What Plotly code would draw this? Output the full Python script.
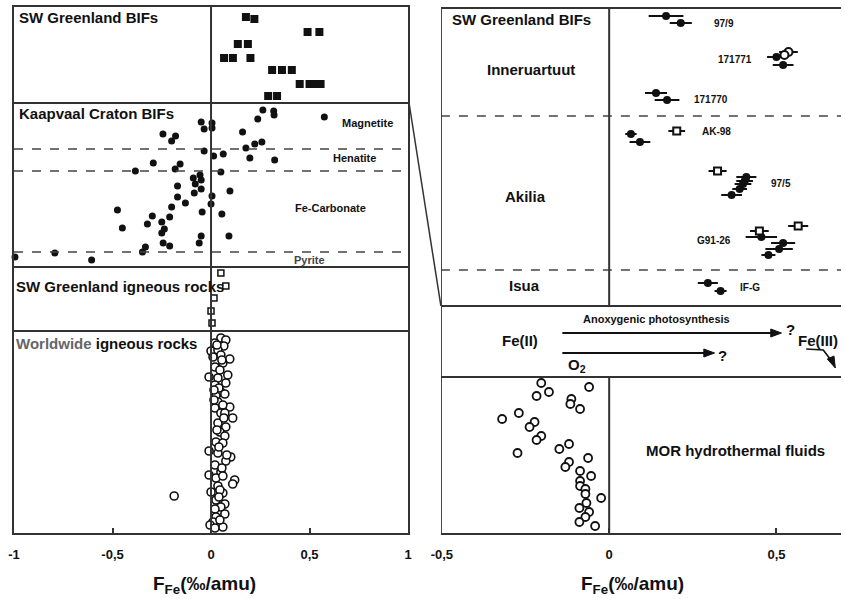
import plotly.graph_objects as go

FONT = "Arial, 'Liberation Sans', sans-serif"
INK = "#111111"
LINE = "#333333"

# ---------------- LEFT COLUMN DATA (x = F_Fe, y = vertical row position) ----------------
swg_bif_x = [0.177, 0.22, 0.49, 0.55, 0.136, 0.187, 0.066, 0.111, 0.20, 0.31, 0.36, 0.41,
             0.45, 0.50, 0.53, 0.556, 0.29, 0.335]
swg_bif_y = [17, 19, 32, 32, 44, 44, 58, 58, 58, 70, 70, 70, 84, 84, 84, 84, 96, 96]

kaap_x = [0.263, 0.318, 0.32, 0.237, 0.575, -0.05, 0.005, -0.035, 0.005, -0.244, -0.18, -0.2,
          0.16, 0.258, 0.222, 0.177, -0.035, 0.013, 0.062, 0.197, 0.323, -0.293, -0.157, -0.182,
          -0.384, 0.05, -0.056, -0.09, -0.05, -0.08, -0.17, -0.05, -0.085, 0.096, -0.17, 0.005,
          -0.13, 0.0, -0.2, -0.475, -0.045, 0.055, -0.298, -0.21, -0.25, -0.323, -0.45, -0.237,
          -0.25, -0.05, 0.091, -0.243, -0.21, -0.333, -0.06, -0.348, -0.793, -0.995, -0.606]
kaap_y = [110, 111, 115, 119, 117, 122, 123, 129, 128, 134, 136, 141,
          132, 142, 144, 148, 151, 156, 154, 158, 160, 163, 164, 169,
          171, 172, 175, 178, 180, 184, 186, 189, 193, 191, 197, 196,
          203, 204, 207, 210, 212, 214, 216, 217, 222, 224, 228, 229,
          233, 236, 236, 243, 246, 247, 243, 252, 253, 257, 260]

swg_ign_x = [0.05, 0.075, 0.015, 0.0, 0.005]
swg_ign_y = [273, 286, 298, 311, 323]

world_x = [0.05, 0.075, 0.02, 0.065, 0.0, 0.035, 0.05, 0.01, 0.095, 0.06, 0.02, 0.045, 0.085,
           -0.01, 0.035, 0.075, 0.02, 0.05, 0.025, 0.07, 0.035, 0.095, 0.06, 0.02, 0.05, 0.11,
           0.07, 0.035, 0.075, 0.045, 0.07, 0.025, 0.06, -0.01, 0.035, 0.1, 0.075, 0.02, 0.05,
           -0.01, 0.025, 0.12, 0.11, 0.035, 0.0, 0.06, -0.187, 0.025, 0.07, 0.05, 0.02, 0.07,
           0.025, 0.01, -0.005, 0.06, 0.02, 0.03, 0.055, 0.04, 0.015, 0.065, 0.04, 0.055, 0.045,
           0.04, 0.045, 0.015, 0.03, 0.08, 0.06]
world_y = [338, 340, 343, 346, 351, 350, 355, 357, 359, 363, 367, 370, 375,
           377, 378, 383, 385, 392, 396, 394, 402, 407, 405, 408, 413, 418,
           413, 423, 427, 432, 436, 442, 443, 451, 453, 457, 461, 465, 472,
           475, 478, 480, 484, 486, 492, 493, 496, 500, 504, 507, 509, 514,
           517, 522, 525, 527, 528, 345, 360, 388, 400, 418, 447, 468, 490,
           497, 520, 390, 430, 455, 476]

# ---------------- RIGHT COLUMN DATA ----------------
bif_fill_x = [0.17, 0.214, 0.50, 0.52, 0.14, 0.173, 0.065, 0.092, 0.41, 0.405, 0.40, 0.39,
              0.366, 0.455, 0.52, 0.508, 0.476, 0.295, 0.333]
bif_fill_y = [16, 23, 57, 65, 93, 100, 134, 142, 177, 181, 184, 189, 195, 237, 243, 249, 255,
              283, 291]
bif_fill_err = [0.052, 0.033, 0.028, 0.031, 0.033, 0.037, 0.017, 0.031, 0.03, 0.025, 0.025,
                0.022, 0.031, 0.047, 0.036, 0.041, 0.021, 0.03, 0.018]

bif_sq_x = [0.202, 0.324, 0.565, 0.449]
bif_sq_y = [131, 171, 226, 231]
bif_sq_err = [0.025, 0.027, 0.03, 0.028]

bif_oc_x = [0.536, 0.524]
bif_oc_y = [52, 55]
bif_oc_err = [0.028, 0.02]

mor_x = [-0.203, -0.06, -0.18, -0.217, -0.113, -0.116, -0.087, -0.27, -0.32, -0.223, -0.238,
         -0.203, -0.217, -0.12, -0.149, -0.274, -0.063, -0.12, -0.131, -0.087, -0.054, -0.087,
         -0.087, -0.071, -0.071, -0.024, -0.068, -0.089, -0.06, -0.071, -0.089, -0.042]
mor_y = [383, 387, 392, 396, 399, 404, 409, 413, 419, 422, 427,
         436, 440, 444, 449, 453, 458, 462, 467, 471, 476, 481,
         486, 489, 494, 498, 503, 508, 512, 517, 522, 526]

left_ticks = [-1, -0.5, 0, 0.5, 1]
left_ticktext = ["-1", "-0,5", "0", "0,5", "1"]
right_ticks = [-0.5, 0, 0.5]
right_ticktext = ["-0,5", "0", "0,5"]

# panel boundaries (rows)
left_solid = [103, 267, 331]
left_dashed = [149, 171, 252]
right_solid = [8, 306, 377]
right_dashed = [116, 270]

fig = go.Figure()

def add(x, y, xa, ya, symbol, size, filled=True, err=None, lw=2):
    m = dict(symbol=symbol, size=size, color=INK if filled else "white",
             line=dict(color=INK, width=lw))
    tr = go.Scatter(x=x, y=y, mode="markers", marker=m, xaxis=xa, yaxis=ya,
                    showlegend=False, hoverinfo="skip", cliponaxis=False)
    if err is not None:
        tr.error_x = dict(type="data", array=err, thickness=2, width=0, color=INK)
    fig.add_trace(tr)

add(swg_bif_x, swg_bif_y, "x", "y", "square", 8, lw=0)
add(kaap_x, kaap_y, "x", "y", "circle", 7, lw=0)
add(swg_ign_x, swg_ign_y, "x", "y", "square", 6, filled=False, lw=1.5)
add(world_x, world_y, "x", "y", "circle", 8, filled=False, lw=1.6)

add(bif_fill_x, bif_fill_y, "x2", "y2", "circle", 8, err=bif_fill_err, lw=0)
add(bif_sq_x, bif_sq_y, "x2", "y2", "square", 7, filled=False, err=bif_sq_err, lw=2)
add(bif_oc_x, bif_oc_y, "x2", "y2", "circle", 8, filled=False, err=bif_oc_err, lw=2)
add(mor_x, mor_y, "x2", "y2", "circle", 8, filled=False, lw=1.8)

shapes = []
# left panel lines
for yv in left_solid:
    shapes.append(dict(type="line", xref="x", yref="y", x0=-1, x1=1, y0=yv, y1=yv,
                       line=dict(color=LINE, width=2)))
for yv in left_dashed:
    shapes.append(dict(type="line", xref="x", yref="y", x0=-1, x1=1, y0=yv, y1=yv,
                       line=dict(color="#444", width=1.6, dash="dash")))
shapes.append(dict(type="line", xref="x", yref="y", x0=0, x1=0, y0=7, y1=533,
                   line=dict(color=LINE, width=2)))
# right panel lines
for yv in right_solid:
    shapes.append(dict(type="line", xref="x2", yref="y", x0=-0.503, x1=0.693, y0=yv, y1=yv,
                       line=dict(color=LINE, width=2)))
for yv in right_dashed:
    shapes.append(dict(type="line", xref="x2", yref="y", x0=-0.503, x1=0.693, y0=yv, y1=yv,
                       line=dict(color="#444", width=1.6, dash="dash")))
shapes.append(dict(type="line", xref="x2", yref="y", x0=0, x1=0, y0=8, y1=306,
                   line=dict(color=LINE, width=2)))
shapes.append(dict(type="line", xref="x2", yref="y", x0=0, x1=0, y0=377, y1=533,
                   line=dict(color=LINE, width=2)))
shapes.append(dict(type="line", xref="x2", yref="y", x0=-0.503, x1=-0.503, y0=8, y1=533,
                   line=dict(color=LINE, width=2)))
# zoom connector
shapes.append(dict(type="line", xref="paper", yref="paper", x0=0.4777, y0=0.8175,
                   x1=0.5162, y1=0.4316, line=dict(color=LINE, width=1.5)))

# reaction arrows (shaft + head)
for (x0, x1, yv) in [(-0.14, 0.515, 333), (-0.14, 0.315, 353)]:
    shapes.append(dict(type="line", xref="x2", yref="y", x0=x0, x1=x1 - 0.02, y0=yv, y1=yv,
                       line=dict(color=INK, width=2)))
    shapes.append(dict(type="path", xref="x2", yref="y",
                       path=f"M {x1-0.032},{yv-4} L {x1},{yv} L {x1-0.032},{yv+4} Z",
                       fillcolor=INK, line=dict(color=INK, width=1)))
# small bent arrow under Fe(III)
shapes.append(dict(type="path", xref="x2", yref="y",
                   path="M 0.589,349 L 0.64,350 L 0.665,361",
                   line=dict(color=INK, width=1.6)))
shapes.append(dict(type="path", xref="x2", yref="y",
                   path="M 0.652,359 L 0.676,368 L 0.672,356 Z",
                   fillcolor=INK, line=dict(color=INK, width=1)))

ann = []
def txt(x, y, t, xref, size, anchor="left", yref="y", color=INK):
    ann.append(dict(x=x, y=y, xref=xref, yref=yref, text=t, showarrow=False,
                    xanchor=anchor, yanchor="middle",
                    font=dict(family=FONT, size=size, color=color)))

B = lambda s: "<b>" + s + "</b>"
txt(-0.985, 17, B("SW Greenland BIFs"), "x", 15)
txt(-0.985, 113, B("Kaapvaal Craton BIFs"), "x", 15)
txt(-1.0, 286, B("SW Greenland igneous rocks"), "x", 15)
txt(-1.0, 343, B('<span style="color:#666">Worldwide</span> igneous rocks'), "x", 15)
txt(0.793, 123, B("Magnetite"), "x", 11, "center")
txt(0.727, 158, B("Henatite"), "x", 11, "center")
txt(0.606, 208, B("Fe-Carbonate"), "x", 11, "center")
txt(0.5, 260, B("Pyrite"), "x", 11, "center", color="#444")

txt(-0.476, 19, B("SW Greenland BIFs"), "x2", 15)
txt(-0.235, 69, B("Inneruartuut"), "x2", 15, "center")
txt(-0.25, 196, B("Akilia"), "x2", 15, "center")
txt(-0.253, 285, B("Isua"), "x2", 15, "center")
txt(0.307, 23, B("97/9"), "x2", 10)
txt(0.432, 59, B("171771"), "x2", 10, "right")
txt(0.247, 99, B("171770"), "x2", 10)
txt(0.271, 131, B("AK-98"), "x2", 10)
txt(0.479, 183, B("97/5"), "x2", 10)
txt(0.3125, 240, B("G91-26"), "x2", 10, "center")
txt(0.384, 287, B("IF-G"), "x2", 10)
txt(0.378, 450, B("MOR hydrothermal fluids"), "x2", 15, "center")

txt(-0.268, 340, B("Fe(II)"), "x2", 15, "center")
txt(0.14, 319, B("Anoxygenic photosynthesis"), "x2", 11, "center")
txt(0.522, 329, B("?"), "x2", 15)
txt(0.318, 355, B("?"), "x2", 15)
txt(-0.128, 365, B("O<sub>2</sub>"), "x2", 15)
txt(0.625, 340, B("Fe(III)"), "x2", 15, "center")

# axis titles
for xv, xr in [(-0.035, "x"), (0.07, "x2")]:
    ann.append(dict(x=xv, y=-0.099, xref=xr, yref="paper", showarrow=False,
                    text="<b>F<sub>Fe</sub>(‰/amu)</b>", xanchor="center", yanchor="middle",
                    font=dict(family=FONT, size=19, color=INK)))

axis_common = dict(showgrid=False, zeroline=False, linecolor=LINE, linewidth=2,
                   ticks="inside", ticklen=5, tickwidth=2, tickcolor=LINE,
                   tickfont=dict(family=FONT, size=13, color=INK), ticklabelstandoff=8)

fig.update_layout(
    width=845, height=599,
    margin=dict(l=14, r=0, t=7, b=66),
    paper_bgcolor="white", plot_bgcolor="white",
    shapes=shapes, annotations=ann,
    xaxis=dict(domain=[0, 0.4765], range=[-1, 1], tickvals=left_ticks,
               ticktext=[B(t) for t in left_ticktext], showline=True, mirror=True,
               anchor="y", **axis_common),
    yaxis=dict(domain=[0, 1], range=[533, 7], showline=True, mirror=True,
               linecolor=LINE, linewidth=2, showticklabels=False, ticks="",
               showgrid=False, zeroline=False, anchor="x"),
    xaxis2=dict(domain=[0.5162, 1], range=[-0.503, 0.693], tickvals=right_ticks,
                ticktext=[B(t) for t in right_ticktext], showline=True, anchor="y2",
                **axis_common),
    yaxis2=dict(domain=[0, 1], range=[533, 7], showline=False, showticklabels=False,
                ticks="", showgrid=False, zeroline=False, anchor="x2", matches="y"),
)

fig.write_html("out.html")
